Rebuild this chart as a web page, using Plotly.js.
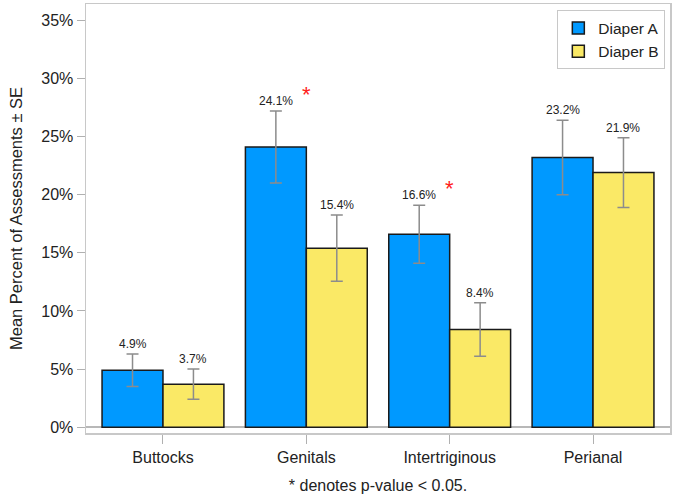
<!DOCTYPE html>
<html>
<head>
<meta charset="utf-8">
<script src="https://cdn.plot.ly/plotly-3.0.1.min.js"></script>
<style>html,body{margin:0;padding:0;background:#fff;}#chart{width:674px;height:498px;}</style>
</head>
<body>
<div id="chart"></div>
<script>
var categories = ["Buttocks", "Genitals", "Intertriginous", "Perianal"];
var diaperA = [4.9, 24.1, 16.6, 23.2];
var diaperB = [3.7, 15.4, 8.4, 21.9];
var seA = [1.4, 3.1, 2.5, 3.2];
var seB = [1.3, 2.85, 2.3, 3.0];
var significant = [false, true, true, false];
var labelsA = diaperA.map(function(v){return v.toFixed(1) + "%";});
var labelsB = diaperB.map(function(v){return v.toFixed(1) + "%";});

var font = "Arial, 'Liberation Sans', sans-serif";
var errStyle = {type: "data", visible: true, color: "#8c8c8c", thickness: 1.5, width: 6};

var traceA = {
  type: "bar", name: "Diaper A", x: categories, y: diaperA,
  marker: {color: "#0099FF", line: {color: "#1a1a1a", width: 1.5}},
  error_y: Object.assign({array: seA}, errStyle),
  hoverinfo: "none"
};
var traceB = {
  type: "bar", name: "Diaper B", x: categories, y: diaperB,
  marker: {color: "#FAE966", line: {color: "#1a1a1a", width: 1.5}},
  error_y: Object.assign({array: seB}, errStyle),
  hoverinfo: "none"
};

var half = 0.2125;
var annotations = [];
categories.forEach(function(c, i){
  annotations.push({x: i - half, y: diaperA[i] + seA[i], text: labelsA[i], showarrow: false,
    yanchor: "bottom", yshift: 1, font: {family: font, size: 12, color: "#222"}});
  annotations.push({x: i + half, y: diaperB[i] + seB[i], text: labelsB[i], showarrow: false,
    yanchor: "bottom", yshift: 1, font: {family: font, size: 12, color: "#222"}});
  if (significant[i]) {
    annotations.push({x: i, y: diaperA[i] + seA[i], text: "*", showarrow: false,
      yanchor: "bottom", yshift: 2, font: {family: font, size: 22, color: "#ff2020"}});
  }
});

var layout = {
  width: 674, height: 498,
  margin: {l: 86, r: 4, t: 4, b: 65},
  paper_bgcolor: "#fff", plot_bgcolor: "#fff",
  barmode: "group", bargap: 0.15, bargroupgap: 0,
  showlegend: true,
  legend: {x: 0.992, xanchor: "right", y: 0.985, yanchor: "top",
    bordercolor: "#c8c8c8", borderwidth: 1, bgcolor: "#fff",
    font: {family: font, size: 15.5, color: "#222"}, tracegroupgap: 0, itemwidth: 30},
  xaxis: {
    type: "category", range: [-0.537, 3.537],
    showline: true, mirror: true, linecolor: "#c8c8c8", linewidth: 1.5,
    ticks: "outside", ticklen: 9, tickcolor: "#b0b0b0", tickwidth: 1,
    tickfont: {family: font, size: 16, color: "#222"},
    title: {text: "* denotes p-value < 0.05.", font: {family: font, size: 16, color: "#222"}, standoff: 15},
    fixedrange: true
  },
  yaxis: {
    range: [-0.5, 36.4],
    tickvals: [0, 5, 10, 15, 20, 25, 30, 35],
    ticktext: ["0%", "5%", "10%", "15%", "20%", "25%", "30%", "35%"],
    showgrid: false, zeroline: true, zerolinecolor: "#b8b8b8", zerolinewidth: 1.5,
    showline: true, mirror: true, linecolor: "#c8c8c8", linewidth: 1.5,
    ticks: "outside", ticklen: 8, tickcolor: "#b0b0b0", tickwidth: 1,
    tickfont: {family: font, size: 16, color: "#222"},
    title: {text: "Mean Percent of Assessments ± SE", font: {family: font, size: 16.5, color: "#222"}, standoff: 14},
    fixedrange: true
  },
  annotations: annotations
};

Plotly.newPlot("chart", [traceA, traceB], layout, {displayModeBar: false, staticPlot: true});
</script>
</body>
</html>
